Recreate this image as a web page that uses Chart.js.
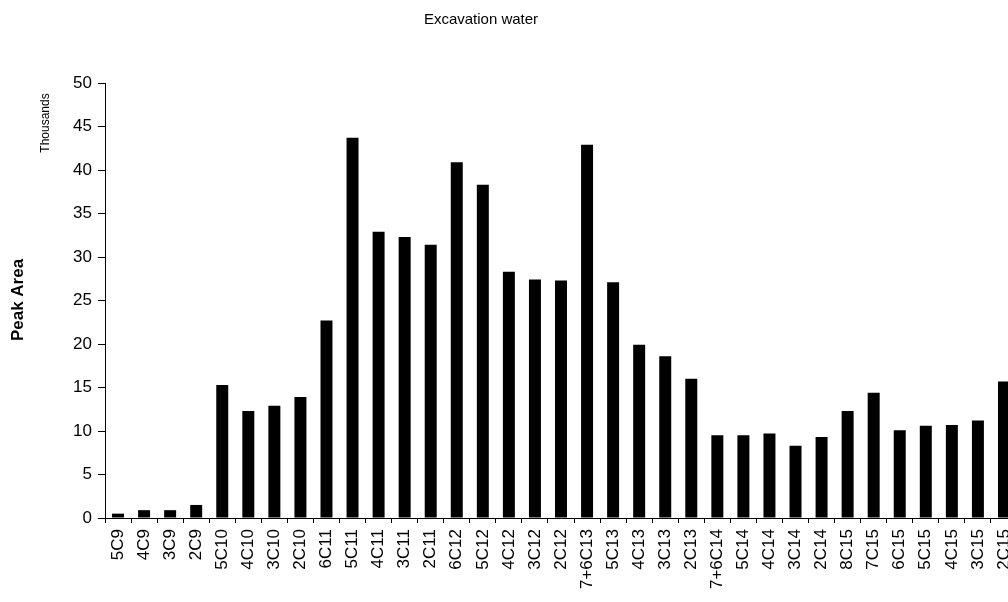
<!DOCTYPE html>
<html lang="en">
<head>
    <meta charset="UTF-8">
    <title>Excavation water</title>
    <script src="https://cdn.jsdelivr.net/npm/chart.js"></script>
    <style>
        body {
            margin: 0;
            background-color: #fff;
            overflow: hidden;
        }
        .chart-box {
            width: 1020px;
            height: 602px;
        }
    </style>
</head>
<body>
    <div class="chart-box">
        <canvas id="peakChart"></canvas>
    </div>
    <script>
        const categories = ['5C9', '4C9', '3C9', '2C9', '5C10', '4C10', '3C10', '2C10', '6C11', '5C11', '4C11', '3C11',
            '2C11', '6C12', '5C12', '4C12', '3C12', '2C12', '7+6C13', '5C13', '4C13', '3C13', '2C13', '7+6C14',
            '5C14', '4C14', '3C14', '2C14', '8C15', '7C15', '6C15', '5C15', '4C15', '3C15', '2C15'];
        // peak area, in thousands
        const peakArea = [0.5, 0.9, 0.9, 1.5, 15.3, 12.3, 12.9, 13.9, 22.7, 43.7, 32.9, 32.3,
            31.4, 40.9, 38.3, 28.3, 27.4, 27.3, 42.9, 27.1, 19.9, 18.6, 16.0, 9.5,
            9.5, 9.7, 8.3, 9.3, 12.3, 14.4, 10.1, 10.6, 10.7, 11.2, 15.7];
        const yTicks = [0, 5, 10, 15, 20, 25, 30, 35, 40, 45, 50];

        const fontFamily = '"Liberation Sans", Arial, sans-serif';

        // title, "Peak Area" and the "Thousands" unit, placed by hand
        const sideText = {
            id: 'sideText',
            afterDraw(chart) {
                const ctx = chart.ctx;
                ctx.save();
                ctx.fillStyle = '#000';
                ctx.textAlign = 'center';
                ctx.textBaseline = 'middle';

                ctx.font = '15px ' + fontFamily;
                ctx.fillText('Excavation water', 481, 20);

                ctx.save();
                ctx.translate(18, 300);
                ctx.rotate(-Math.PI / 2);
                ctx.font = 'bold 17px ' + fontFamily;
                ctx.fillText('Peak Area', 0, 0);
                ctx.restore();

                ctx.save();
                ctx.translate(46, 123);
                ctx.rotate(-Math.PI / 2);
                ctx.font = '12px ' + fontFamily;
                ctx.fillText('Thousands', 0, 0);
                ctx.restore();

                ctx.restore();
            }
        };

        const ctx = document.getElementById('peakChart').getContext('2d');
        new Chart(ctx, {
            type: 'bar',
            data: {
                labels: categories,
                datasets: [{
                    label: 'Peak Area',
                    data: peakArea,
                    backgroundColor: '#000',
                    borderWidth: 0,
                    barPercentage: 0.46,
                    categoryPercentage: 1
                }]
            },
            options: {
                responsive: true,
                maintainAspectRatio: false,
                animation: false,
                layout: {
                    padding: { left: 0, right: 3, top: 83, bottom: 0 }
                },
                plugins: {
                    legend: { display: false },
                    tooltip: { enabled: false },
                    title: { display: false }
                },
                scales: {
                    x: {
                        grid: {
                            display: true,
                            drawOnChartArea: false,
                            color: '#000',
                            tickLength: 5,
                            offset: true
                        },
                        border: { display: true, color: '#000', width: 1 },
                        ticks: {
                            color: '#000',
                            autoSkip: false,
                            minRotation: 90,
                            maxRotation: 90,
                            padding: 6,
                            font: { family: fontFamily, size: 17 }
                        },
                        afterFit(scale) {
                            scale.height = 84;
                            scale.paddingLeft = 0;
                            scale.paddingRight = 0;
                        }
                    },
                    y: {
                        min: 0,
                        max: 50,
                        afterBuildTicks(scale) {
                            scale.ticks = yTicks.map(v => ({ value: v }));
                        },
                        grid: {
                            display: true,
                            drawOnChartArea: false,
                            color: '#000',
                            tickLength: 7
                        },
                        border: { display: true, color: '#000', width: 1 },
                        ticks: {
                            color: '#000',
                            padding: 6,
                            font: { family: fontFamily, size: 17 }
                        },
                        afterFit(scale) {
                            scale.width = 105;
                        }
                    }
                }
            },
            plugins: [sideText]
        });
    </script>
</body>
</html>
